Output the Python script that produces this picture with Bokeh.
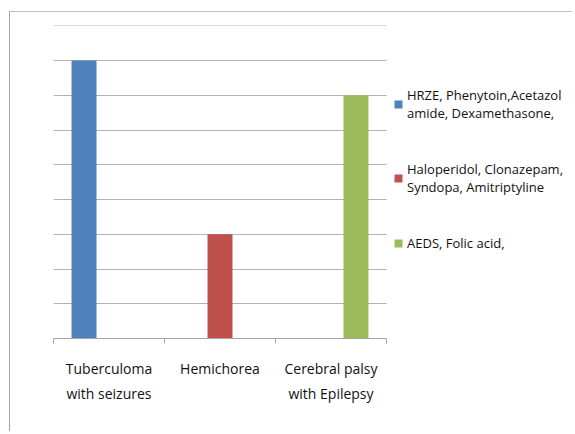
from bokeh.plotting import figure
from bokeh.models import Range1d, FixedTicker, Legend, LegendItem
from bokeh.embed import file_html
from bokeh.resources import INLINE

categories = ["Tuberculoma\nwith seizures", "Hemichorea", "Cerebral palsy\nwith Epilepsy"]
series_names = ["HRZE, Phenytoin,Acetazol\namide, Dexamethasone,",
                "Haloperidol, Clonazepam,\nSyndopa, Amitriptyline",
                "AEDS, Folic acid,"]
series_values = [
    [8, 0, 0],
    [0, 3, 0],
    [0, 0, 7],
]
colors = ["#4F81BD", "#C0504D", "#9BBB59"]
y_ticks = [0, 1, 2, 3, 4, 5, 6, 7, 8, 9]

n = len(categories)
W, H = 563, 420
ml, mr, mt, mb = 43, 5, 13, 94
frame_w = W - ml - mr
data_w = 333
p = figure(width=W, height=H, output_backend="svg", toolbar_location=None,
           x_range=Range1d(0, n * frame_w / data_w), y_range=Range1d(0, 9.01),
           min_border_left=ml, min_border_top=mt, min_border_right=mr, min_border_bottom=mb)
p.styles = {"border-left": "1px solid #a6a6a6", "border-top": "1px solid #c0c0c0",
            "margin-left": "9px", "margin-top": "11px"}
p.outline_line_color = None
p.background_fill_color = "white"
p.border_fill_color = "white"

bw = 0.225
offsets = [-bw, 0, bw]
items = []
for k, (name, vals) in enumerate(zip(series_names, series_values)):
    xs = [i + 0.5 + offsets[k] for i in range(n)]
    r = p.vbar(x=xs, top=vals, width=bw, bottom=0, fill_color=colors[k], line_color=None)
    items.append(LegendItem(label=name, renderers=[r]))

p.yaxis.visible = False
p.ygrid.ticker = FixedTicker(ticks=y_ticks)
p.ygrid.grid_line_color = "#b3b3b3"
p.ygrid.cross_bounds = (0, n)
p.xgrid.visible = False

xa = p.xaxis[0]
xa.bounds = (0, n)
xa.ticker = FixedTicker(ticks=[i + 0.5 for i in range(n)], minor_ticks=list(range(n + 1)))
xa.major_label_overrides = {i + 0.5: c for i, c in enumerate(categories)}
xa.major_tick_out = 0
xa.major_tick_in = 0
xa.minor_tick_out = 5
xa.minor_tick_in = 0
xa.minor_tick_line_color = "#a6a6a6"
xa.axis_line_color = "#a6a6a6"
xa.major_label_text_font = "Open Sans"
xa.major_label_text_font_size = "14px"
xa.major_label_text_color = "#111111"
xa.major_label_text_line_height = 1.35
xa.major_label_standoff = 15

legend = Legend(items=items, location=(340, 86), orientation="vertical")
legend.label_text_font = "Open Sans"
legend.label_text_font_size = "13px"
legend.label_text_color = "#111111"
legend.label_text_line_height = 1.8
legend.glyph_width = 10
legend.glyph_height = 10
legend.label_standoff = 4
legend.spacing = 38
legend.padding = 0
legend.margin = 0
legend.border_line_color = None
legend.background_fill_alpha = 0
p.add_layout(legend, "center")

open("out.html", "w").write(file_html(p, INLINE))
